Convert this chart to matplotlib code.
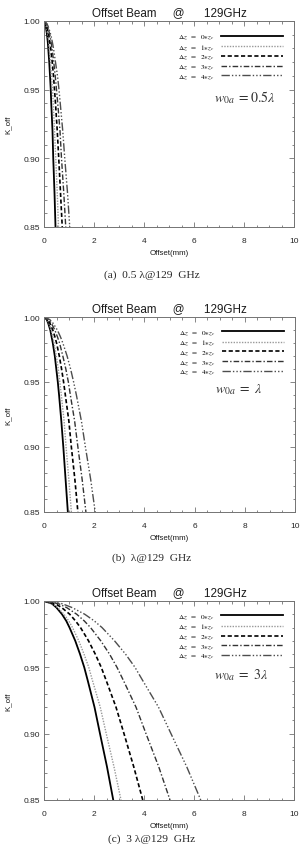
import matplotlib
matplotlib.use('Agg')
import matplotlib.pyplot as plt
from matplotlib.ticker import MultipleLocator

plt.rcParams['font.family'] = ['Liberation Sans', 'DejaVu Sans']
plt.rcParams['mathtext.fontset'] = 'stix'

# K_off levels shared by every curve
k_levels = [1.000, 0.998, 0.995, 0.990, 0.985, 0.980, 0.970, 0.960,
            0.950, 0.940, 0.920, 0.900, 0.875, 0.850]

# offsets (mm), one list per delta z (0..4 * z_c)
offset_half = [
    [0, .05, .08, .12, .15, .17, .21, .24, .27, .29, .34, .37, .42, .46],
    [0, .07, .10, .15, .19, .21, .26, .30, .34, .37, .42, .47, .53, .58],
    [0, .08, .13, .19, .23, .27, .33, .38, .42, .46, .53, .59, .66, .73],
    [0, .10, .16, .23, .28, .32, .39, .45, .50, .55, .64, .70, .79, .87],
    [0, .12, .19, .27, .33, .38, .46, .54, .60, .65, .75, .83, .94, 1.03],
]
offset_one = [
    [0, .11, .17, .25, .30, .35, .43, .49, .55, .60, .69, .77, .86, .95],
    [0, .13, .20, .28, .35, .40, .49, .57, .63, .69, .80, .88, .99, 1.09],
    [0, .16, .24, .35, .43, .50, .61, .70, .78, .85, .99, 1.09, 1.23, 1.35],
    [0, .19, .30, .43, .53, .62, .75, .87, .97, 1.05, 1.22, 1.35, 1.52, 1.67],
    [0, .23, .37, .53, .65, .75, .92, 1.06, 1.18, 1.29, 1.49, 1.65, 1.86, 2.04],
]
offset_three = [
    [0, .32, .50, .72, .89, 1.02, 1.25, 1.44, 1.61, 1.75, 2.02, 2.24, 2.52, 2.77],
    [0, .35, .55, .80, .99, 1.14, 1.39, 1.60, 1.79, 1.94, 2.25, 2.49, 2.80, 3.08],
    [0, .45, .71, 1.03, 1.26, 1.46, 1.78, 2.05, 2.29, 2.49, 2.88, 3.20, 3.59, 3.95],
    [0, .58, .91, 1.31, 1.61, 1.86, 2.27, 2.62, 2.92, 3.18, 3.68, 4.08, 4.59, 5.04],
    [0, .72, 1.13, 1.63, 2.01, 2.32, 2.82, 3.26, 3.64, 3.95, 4.58, 5.08, 5.71, 6.27],
]

dz_labels = [r'$\Delta z\ \ =\ \ %d{\ast}z_c$' % i for i in range(5)]
waist_labels = [r'$w_{0a}\ {=}0.5\lambda$', r'$w_{0a}\ =\ \lambda$', r'$w_{0a}\ =\ 3\lambda$']
captions = ['(a)  0.5 λ@129  GHz', '(b)  λ@129  GHz', '(c)  3 λ@129  GHz']

styles = [
    dict(color='black', lw=1.3, ls='-'),
    dict(color='0.6', lw=1.0, ls=(0, (1, 1))),
    dict(color='black', lw=1.2, ls=(0, (2.5, 1.5))),
    dict(color='0.2', lw=1.0, ls=(0, (4, 1.5, 1, 1.5))),
    dict(color='0.3', lw=1.0, ls=(0, (6, 1.5, 1, 1.5, 1, 1.5, 1, 1.5))),
]

fig = plt.figure(figsize=(3.04, 8.45), dpi=100)
boxes = [
    [44 / 304, 1 - 228 / 845, 250 / 304, 206 / 845],
    [44 / 304, 1 - 513 / 845, 251 / 304, 195 / 845],
    [44 / 304, 1 - 801 / 845, 250 / 304, 199 / 845],
]
caption_y = [1 - 275 / 845, 1 - 558 / 845, 0.5 / 845]
caption_va = ['center', 'center', 'bottom']

for box, data, wlab, cap, cy, cva in zip(boxes, [offset_half, offset_one, offset_three],
                                          waist_labels, captions, caption_y, caption_va):
    ax = fig.add_axes(box)
    for xs, st, lab in zip(data, styles, dz_labels):
        ax.plot(xs, k_levels, label=lab, **st)
    ax.set_xlim(0, 10)
    ax.set_ylim(0.85, 1.0)
    ax.xaxis.set_major_locator(MultipleLocator(2))
    ax.xaxis.set_minor_locator(MultipleLocator(0.5))
    ax.yaxis.set_major_locator(MultipleLocator(0.05))
    ax.yaxis.set_minor_locator(MultipleLocator(0.01))
    ax.tick_params(which='both', direction='in', top=True, right=True,
                   color='0.45', width=0.6, labelsize=6, labelcolor='0.15')
    ax.tick_params(which='major', length=3.5)
    ax.tick_params(which='minor', length=1.8)
    ax.tick_params(axis='x', pad=7)
    ax.tick_params(axis='y', pad=3)
    ax.yaxis.set_major_formatter(plt.FormatStrFormatter('%.2f'))
    for sp in ax.spines.values():
        sp.set_color('0.45')
        sp.set_linewidth(0.7)
    ax.set_title('Offset Beam     @      129GHz', fontsize=8.4, pad=4, color='0.1')
    ax.set_xlabel('Offset(mm)', fontsize=5.7, labelpad=4, color='0.1')
    ax.set_ylabel('K_off', fontsize=5.7, labelpad=8, color='0.1')
    ax.legend(loc='upper right', bbox_to_anchor=(0.955, 0.945), frameon=False,
              markerfirst=False, fontsize=5.2, handlelength=8.5, handletextpad=0.9,
              labelspacing=0.12, borderpad=0, borderaxespad=0)
    ax.text(6.8, 0.945, wlab, fontsize=10, va='center', ha='left', color='0.2')
    fig.text(0.5, cy, cap, fontsize=8.2, ha='center', va=cva,
             family=['Liberation Serif', 'DejaVu Serif'], color='0.15')

fig.savefig('out.png', dpi=100)
